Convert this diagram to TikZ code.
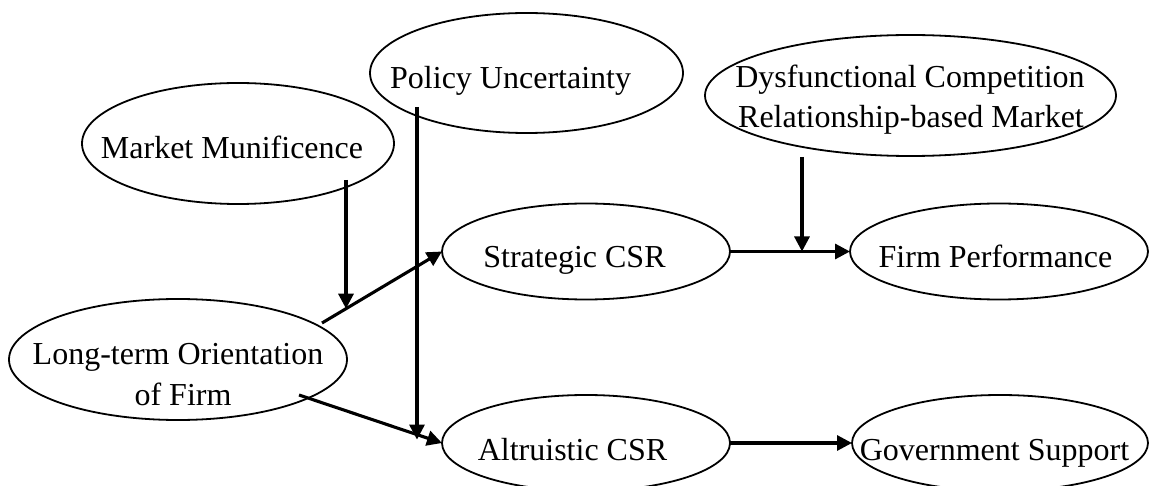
\documentclass[tikz,border=0pt]{standalone}
\usepackage{fontspec}
\setmainfont{Liberation Serif}
\usetikzlibrary{shapes.geometric,arrows.meta,calc}
\begin{document}
\begin{tikzpicture}[x=1pt,y=-1pt,
  oval/.style={draw,ellipse,line width=1.8pt,inner sep=0pt,outer sep=0pt},
  txt/.style={inner sep=0pt,anchor=base,font=\fontsize{32}{38}\selectfont},
  arr/.style={line width=3.1pt,-{Triangle[length=15pt,width=15pt]}}]
\useasboundingbox (0,0) rectangle (1149,486);
\clip (0,0) rectangle (1149,486);

% constructs
\node[oval,minimum width=312pt,minimum height=121pt] (mk)  at (238,143.5) {};
\node[oval,minimum width=313pt,minimum height=120pt] (pu)  at (526.5,73) {};
\node[oval,minimum width=411pt,minimum height=121pt] (dc)  at (910.5,95.5) {};
\node[oval,minimum width=338pt,minimum height=121pt] (lt)  at (178,359.5) {};
\node[oval,minimum width=288pt,minimum height=96pt]  (str) at (586,251.5) {};
\node[oval,minimum width=298pt,minimum height=96pt]  (fp)  at (999,251.5) {};
\node[oval,minimum width=288pt,minimum height=96pt]  (alt) at (586,443) {};
\node[oval,minimum width=296pt,minimum height=96pt]  (gov) at (1000,443) {};

% labels
\node[txt] (mkT)  at (232,159) {Market Munificence};
\node[txt,anchor=base west] (puT) at (390,89) {Policy Uncertainty};
\node[txt] (dcT1) at (910,88) {Dysfunctional Competition};
\node[txt] (dcT2) at (911,128) {Relationship-based Market};
\node[txt] (ltT1) at (178,365) {Long-term Orientation};
\node[txt] (ltT2) at (183,406) {of Firm};
\node[txt] (strT) at (574.5,268) {Strategic CSR};
\node[txt] (fpT)  at (995.5,268) {Firm Performance};
\node[txt] (altT) at (572.5,460) {Altruistic CSR};
\node[txt] (govT) at (994.5,460) {Government Support};

% connector end points
\coordinate (ltS) at ($(lt)+(144,-36.5)$);
\coordinate (ltA) at ($(lt)+(121,35.5)$);
\path (ltS) -- (str.west) coordinate[pos=0.2] (mkTip);
\path (ltA) -- (alt.west) coordinate[pos=0.825] (puTip);
\path (str.east) -- (fp.west) coordinate[pos=0.6] (dcTip);
\coordinate (mkTail) at ($(mk)+(108,36.5)$);
\coordinate (puTail) at ($(pu)+(-109.5,34)$);
\coordinate (dcTail) at ($(dc)+(-108.5,61.5)$);

% paths
\draw[arr] (ltS) -- (str.west);
\draw[arr] (ltA) -- (alt.west);
\draw[arr] (str.east) -- (fp.west);
\draw[arr] (alt.east) -- (gov.west);

% moderators
\draw[arr] (mkTail) -- (mkTail |- mkTip);
\draw[arr] (puTail) -- ($(puTail |- puTip)+(0,5)$);
\draw[arr] (dcTail) -- (dcTail |- dcTip);
\end{tikzpicture}
\end{document}
